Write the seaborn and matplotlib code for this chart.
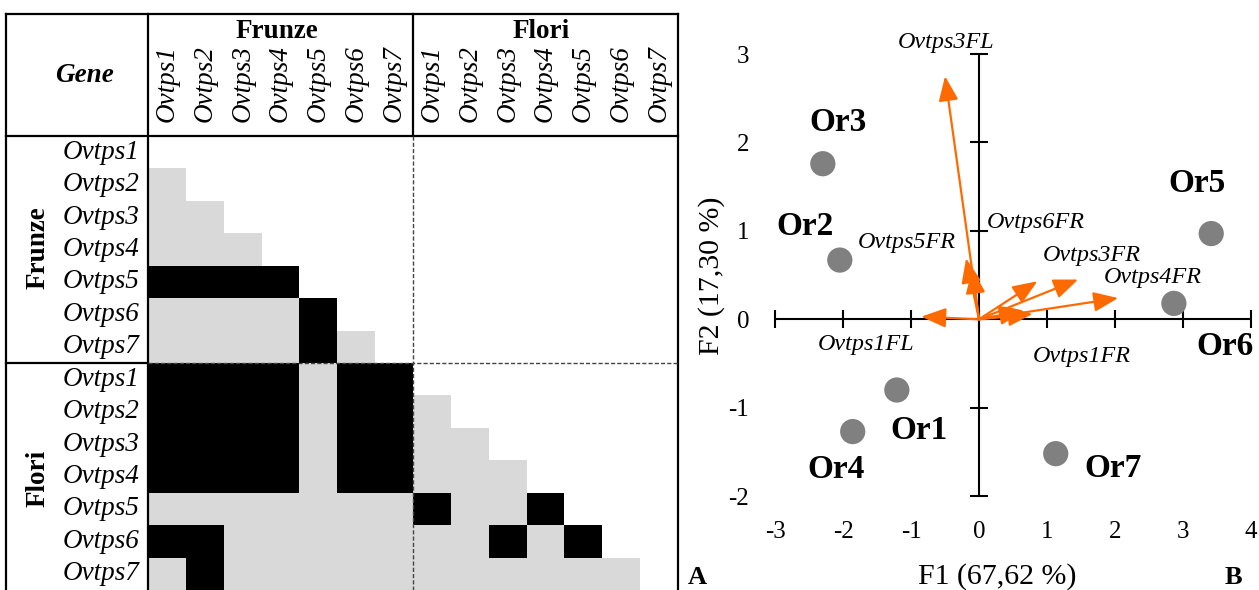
import numpy as np
import pandas as pd
import matplotlib
matplotlib.use("Agg")
import matplotlib.pyplot as plt
from matplotlib.colors import ListedColormap
import seaborn as sns

# ---------------- data ----------------
genes = ["Ovtps1", "Ovtps2", "Ovtps3", "Ovtps4", "Ovtps5", "Ovtps6", "Ovtps7"]
tissues = ["Frunze", "Flori"]
# lower-triangle correlation classes: 1 = not significant (grey), 2 = significant (black)
corr_rows = [
    [],
    [1],
    [1, 1],
    [1, 1, 1],
    [2, 2, 2, 2],
    [1, 1, 1, 1, 2],
    [1, 1, 1, 1, 2, 1],
    [2, 2, 2, 2, 1, 2, 2],
    [2, 2, 2, 2, 1, 2, 2, 1],
    [2, 2, 2, 2, 1, 2, 2, 1, 1],
    [2, 2, 2, 2, 1, 2, 2, 1, 1, 1],
    [1, 1, 1, 1, 1, 1, 1, 2, 1, 1, 2],
    [2, 2, 1, 1, 1, 1, 1, 1, 1, 2, 1, 2],
    [1, 2, 1, 1, 1, 1, 1, 1, 1, 1, 1, 1, 1],
]

obs_names = ["Or1", "Or2", "Or3", "Or4", "Or5", "Or6", "Or7"]
obs_f1 = [-1.21, -2.05, -2.30, -1.86, 3.42, 2.87, 1.13]
obs_f2 = [-0.80, 0.67, 1.76, -1.27, 0.97, 0.18, -1.52]

var_f1 = [-0.50, -0.19, -0.10, 0.86, 1.46, 2.05, 0.66, 0.79, -0.85]
var_f2 = [2.75, 0.69, 0.57, 0.43, 0.45, 0.24, 0.10, 0.06, 0.03]
var_labels = ["Ovtps3FL", "Ovtps5FR", "Ovtps6FR", "", "Ovtps3FR", "Ovtps4FR", "", "Ovtps1FR", "Ovtps1FL"]
# label anchor positions (data units of the biplot)
var_label_x = [-0.49, -1.06, 0.12, None, 1.66, 2.56, None, 1.52, -1.66]
var_label_y = [3.13, 0.87, 1.09, None, 0.72, 0.47, None, -0.42, -0.29]
var_label_ha = ["center", "center", "left", "center", "center", "center", "center", "center", "center"]

xticks = [-3, -2, -1, 0, 1, 2, 3, 4]
yticks = [-2, -1, 0, 1, 2, 3]
xlabel = "F1 (67,62 %)"
ylabel = "F2 (17,30 %)"

# ---------------- figure ----------------
sns.set_theme(style="white")
plt.rcParams["font.family"] = ["Liberation Serif", "DejaVu Serif"]
plt.rcParams["text.color"] = "black"
plt.rcParams["xtick.color"] = "black"
plt.rcParams["ytick.color"] = "black"
plt.rcParams["xtick.labelcolor"] = "black"
plt.rcParams["ytick.labelcolor"] = "black"
plt.rcParams["axes.labelcolor"] = "black"

W, H = 1259, 590
fig = plt.figure(figsize=(W / 100, H / 100), dpi=100)


def fx(x):
    return x / W


def fy(y):
    return 1 - y / H


# ---------- Panel A : heatmap ----------
n = len(genes) * len(tissues)
mat = np.full((n, n), np.nan)
for i, row in enumerate(corr_rows):
    for j, v in enumerate(row):
        mat[i, j] = v

gx0, gx1, gy0, gy1 = 148, 678, 136, 590
ax1 = fig.add_axes([fx(gx0), fy(gy1), fx(gx1) - fx(gx0), fy(gy0) - fy(gy1)])
cmap = ListedColormap(["#d9d9d9", "#000000"])
labels = genes * len(tissues)
sns.heatmap(mat, cmap=cmap, vmin=1, vmax=2, cbar=False, ax=ax1,
            xticklabels=labels, yticklabels=labels, linewidths=0)
ax1.xaxis.tick_top()
ax1.set_xticklabels(labels, rotation=90, fontstyle="italic", fontsize=19.5, color="black")
ax1.set_yticklabels(labels, rotation=0, fontstyle="italic", fontsize=19.5, color="black")
ax1.tick_params(axis="both", length=0)
ax1.tick_params(axis="x", pad=10)
ax1.tick_params(axis="y", pad=6)
for s in ax1.spines.values():
    s.set_visible(False)

colw = (gx1 - gx0) / n
rowh = (gy1 - gy0) / n
top = -(gy0 - 14) / rowh
left = -(gx0 - 6) / colw
half = len(genes)
lk = dict(color="black", lw=1.6, clip_on=False, solid_capstyle="projecting")
dk = dict(color="#444444", lw=1.0, clip_on=False, linestyle=(0, (3, 1.5)))
ax1.plot([left, n], [top, top], **lk)
ax1.plot([left, left], [top, n + 1], **lk)
ax1.plot([n, n], [top, n + 1], **lk)
ax1.plot([0, 0], [top, n + 1], **lk)
ax1.plot([left, n], [0, 0], **lk)
ax1.plot([half, half], [top, 0], **lk)
ax1.plot([half, half], [0, n], **dk)
ax1.plot([left, 0], [half, half], **lk)
ax1.plot([0, n], [half, half], **dk)
ax1.set_xlim(0, n)
ax1.set_ylim(n, 0)

# header texts
fig.text(fx(84), fy(76), "Gene", ha="center", va="center", fontsize=19.5,
         fontweight="bold", fontstyle="italic")
fig.text(fx(277), fy(31), tissues[0], ha="center", va="center",
         fontsize=19.5, fontweight="bold")
fig.text(fx(541), fy(31), tissues[1], ha="center", va="center",
         fontsize=19.5, fontweight="bold")
fig.text(fx(38), fy(248), tissues[0], ha="center", va="center",
         fontsize=19.5, fontweight="bold", rotation=90)
fig.text(fx(38), fy(478), tissues[1], ha="center", va="center",
         fontsize=19.5, fontweight="bold", rotation=90)

# ---------- Panel B : biplot ----------
xlim = (-3.3, 4.1)
ylim = (-2.25, 3.3)
px0 = 979 + 67.9 * xlim[0]
px1 = 979 + 67.9 * xlim[1]
py0 = 319.3 - 88.4 * ylim[0]
py1 = 319.3 - 88.4 * ylim[1]
ax2 = fig.add_axes([fx(px0), fy(py0), fx(px1) - fx(px0), fy(py1) - fy(py0)])
ax2.set_facecolor("none")
ax2.set_xlim(*xlim)
ax2.set_ylim(*ylim)
for s in ax2.spines.values():
    s.set_visible(False)

ax2.plot([xticks[0], xticks[-1]], [0, 0], color="black", lw=1.5, zorder=2)
ax2.plot([0, 0], [yticks[0], yticks[-1]], color="black", lw=1.5, zorder=2)
ax2.plot(xticks, [0] * len(xticks), linestyle="none", marker="|", markersize=13,
         markeredgewidth=1.5, color="black", zorder=2)
ax2.plot([0] * len(yticks), yticks, linestyle="none", marker="_", markersize=13,
         markeredgewidth=1.5, color="black", zorder=2)

ax2.set_xticks(xticks)
ax2.set_yticks(yticks)
ax2.set_xticklabels([str(t) for t in xticks], fontsize=18, color="black")
ax2.set_yticklabels([str(t) for t in yticks], fontsize=18, color="black")
ax2.tick_params(axis="both", length=0)
ax2.tick_params(axis="x", pad=2)
ax2.tick_params(axis="y", pad=4)
ax2.grid(False)

orange = "#ff6a00"
for x, y in zip(var_f1, var_f2):
    ax2.annotate("", xy=(x, y), xytext=(0, 0),
                 arrowprops=dict(arrowstyle="-|>,head_length=0.75,head_width=0.3",
                                 color=orange, lw=1.6, mutation_scale=20,
                                 shrinkA=0, shrinkB=0), zorder=3)
for lab, lx, ly, ha in zip(var_labels, var_label_x, var_label_y, var_label_ha):
    if lab:
        ax2.text(lx, ly, lab, ha=ha, va="center", fontsize=17.4, fontstyle="italic",
                 color="black")

obs = pd.DataFrame({"F1": obs_f1, "F2": obs_f2, "name": obs_names})
sns.scatterplot(data=obs, x="F1", y="F2", ax=ax2, color="#808080", s=330,
                edgecolor="none", zorder=4, legend=False)
ax2.set_xlabel("")
ax2.set_ylabel("")
obs_offsets = {"Or1": (16, -29), "Or2": (-25, 24), "Or3": (11, 30), "Or4": (-12, -27),
               "Or5": (-10, 36), "Or6": (37, -31), "Or7": (41, -11)}
for _, r in obs.iterrows():
    ax2.annotate(r["name"], (r["F1"], r["F2"]), xytext=obs_offsets[r["name"]],
                 textcoords="offset points", ha="center", va="center",
                 fontsize=24, fontweight="bold", color="black")

fig.text(fx(997), fy(577), xlabel, ha="center", va="center", fontsize=21.5)
fig.text(fx(712), fy(276), ylabel, ha="center", va="center", fontsize=21.5, rotation=90)
fig.text(fx(697), fy(578), "A", ha="center", va="center", fontsize=19, fontweight="bold")
fig.text(fx(1233), fy(578), "B", ha="center", va="center", fontsize=19, fontweight="bold")

fig.savefig("out.png", dpi=100)
